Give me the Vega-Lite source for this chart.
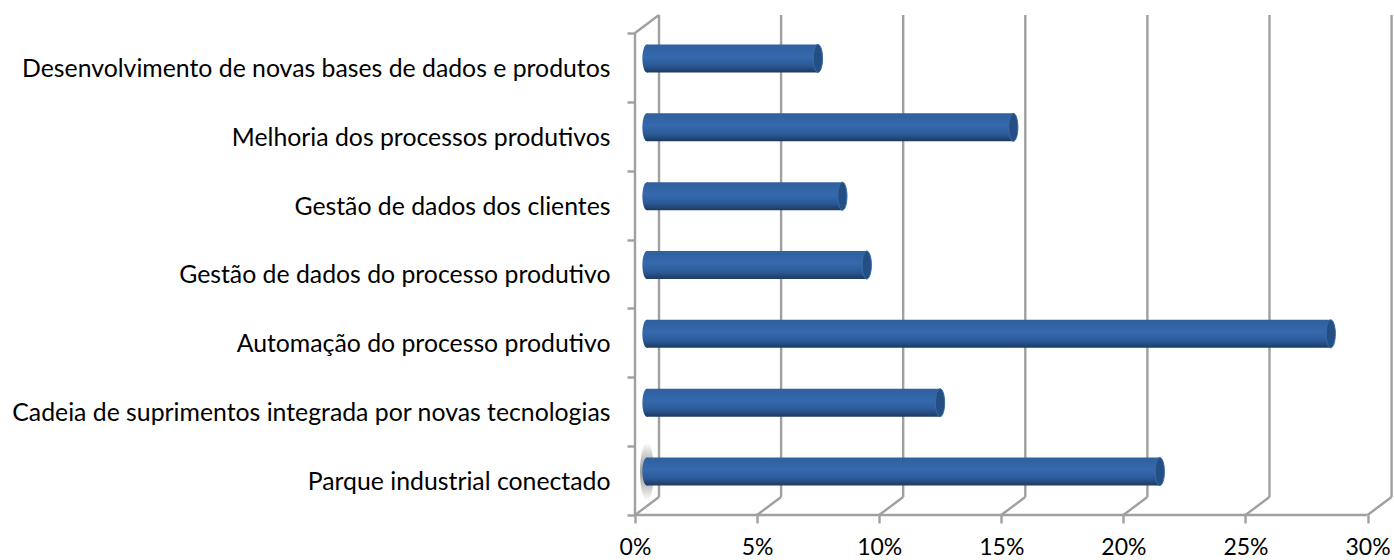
{
 "$schema":"https://vega.github.io/schema/vega-lite/v6.json",
 "width":757,"height":500,
 "autosize":{"type":"none"},
 "padding":{"left":635,"top":15,"right":2,"bottom":45},
 "background":"white",
 "config":{"view":{"stroke":null}},
 "datasets":{
  "barras":[
   {"categoria":"Desenvolvimento de novas bases de dados e produtos","valor":7},
   {"categoria":"Melhoria dos processos produtivos","valor":15},
   {"categoria":"Gestão de dados dos clientes","valor":8},
   {"categoria":"Gestão de dados do processo produtivo","valor":9},
   {"categoria":"Automação do processo produtivo","valor":28},
   {"categoria":"Cadeia de suprimentos integrada por novas tecnologias","valor":12},
   {"categoria":"Parque industrial conectado","valor":21}
  ],
  "grade":[{"pct":0},{"pct":5},{"pct":10},{"pct":15},{"pct":20},{"pct":25},{"pct":30}]
 },
 "resolve":{"scale":{"y":"independent"},"axis":{"y":"independent"}},
 "layer":[
  {"data":{"name":"grade"},
   "layer":[
    {"mark":{"type":"rule","color":"#a0a0a0","strokeWidth":2.4,"xOffset":24,"x2Offset":24,"yOffset":-18},
     "encoding":{
      "x":{"field":"pct","type":"quantitative","scale":{"domain":[0,31],"nice":false,"zero":false},
       "axis":{"values":[0,5,10,15,20,25,30],"format":".0f","labelExpr":"datum.value + '%'","grid":false,"domain":false,"tickColor":"#a0a0a0","tickWidth":2.4,"tickSize":8,"labelFont":"Lato","labelFontSize":23,"labelColor":"#000000","labelPadding":13,"labelFlush":false,"title":null}},
      "y":{"datum":0,"type":"quantitative","scale":{"domain":[0,7.261],"nice":false,"zero":false},"axis":null},
      "y2":{"datum":7.261}
     }},
    {"mark":{"type":"rule","color":"#a0a0a0","strokeWidth":2.4,"x2Offset":24,"y2Offset":-18},
     "encoding":{
      "x":{"field":"pct","type":"quantitative"},
      "x2":{"field":"pct"},
      "y":{"datum":0,"type":"quantitative"},
      "y2":{"datum":0}
     }},
    {"transform":[{"filter":"datum.pct === 0"}],
     "mark":{"type":"rule","color":"#a0a0a0","strokeWidth":2.4,"x2Offset":24,"y2Offset":-18},
     "encoding":{
      "x":{"field":"pct","type":"quantitative"},
      "x2":{"field":"pct"},
      "y":{"datum":7,"type":"quantitative"},
      "y2":{"datum":7}
     }},
    {"transform":[{"filter":"datum.pct === 0"}],
     "mark":{"type":"rule","color":"#a0a0a0","strokeWidth":2.4},
     "encoding":{
      "x":{"field":"pct","type":"quantitative"},
      "y":{"datum":0,"type":"quantitative"},
      "y2":{"datum":7}
     }},
    {"transform":[{"filter":"datum.pct === 0"}],
     "mark":{"type":"rule","color":"#a0a0a0","strokeWidth":2.4},
     "encoding":{
      "x":{"datum":0,"type":"quantitative"},
      "x2":{"datum":30},
      "y":{"datum":0,"type":"quantitative"}
     }}
   ]},
  {"data":{"name":"barras"},
   "encoding":{
    "y":{"field":"categoria","type":"nominal","sort":null,
     "scale":{"domain":["Desenvolvimento de novas bases de dados e produtos","Melhoria dos processos produtivos","Gestão de dados dos clientes","Gestão de dados do processo produtivo","Automação do processo produtivo","Cadeia de suprimentos integrada por novas tecnologias","Parque industrial conectado"],"paddingInner":0,"paddingOuter":0.1307,"align":1},
     "axis":{"orient":"left","title":null,"domain":false,"tickBand":"extent","tickColor":"#a0a0a0","tickWidth":2.4,"tickSize":8,"labelFont":"Lato","labelFontSize":24.8,"labelColor":"#000000","labelPadding":17,"labelLimit":640,"labelOffset":2}}
   },
   "layer":[
    {"transform":[{"filter":"datum.valor === 21"}],
     "mark":{"type":"point","filled":true,"opacity":1,"size":3400,"xOffset":12,"yOffset":-9,"shape":"M0,-1C0.14,-1 0.24,-0.5 0.24,0C0.24,0.5 0.14,1 0,1C-0.14,1 -0.24,0.5 -0.24,0C-0.24,-0.5 -0.14,-1 0,-1Z",
      "color":{"gradient":"radial","x1":0.5,"y1":0.5,"x2":0.5,"y2":0.5,"r1":0,"r2":0.5,"stops":[{"offset":0,"color":"#8c8c8c"},{"offset":1,"color":"#ffffff"}]}},
     "encoding":{"x":{"datum":0,"type":"quantitative"}}},
    {"mark":{"type":"point","filled":true,"opacity":1,"size":784,"xOffset":12,"yOffset":-9,"shape":"M0,-1C0.18,-1 0.33,-0.56 0.33,0C0.33,0.56 0.18,1 0,1C-0.18,1 -0.33,0.56 -0.33,0C-0.33,-0.56 -0.18,-1 0,-1Z",
      "color":{"x1":0,"y1":0,"x2":0,"y2":1,"gradient":"linear","stops":[{"offset":0,"color":"#2f609f"},{"offset":0.45,"color":"#3569ad"},{"offset":0.75,"color":"#2b5a97"},{"offset":1,"color":"#1d3a60"}]}},
     "encoding":{"x":{"datum":0,"type":"quantitative"}}},
    {"mark":{"type":"bar","size":28,"xOffset":12,"x2Offset":12,"yOffset":-9,
      "color":{"x1":0,"y1":0,"x2":0,"y2":1,"gradient":"linear","stops":[{"offset":0,"color":"#2f609f"},{"offset":0.45,"color":"#3569ad"},{"offset":0.75,"color":"#2b5a97"},{"offset":1,"color":"#1d3a60"}]}},
     "encoding":{"x":{"field":"valor","type":"quantitative","stack":null},"x2":{"datum":0}}},
    {"mark":{"type":"point","filled":true,"opacity":1,"size":784,"xOffset":12,"yOffset":-9,"stroke":"#3a6ba6","strokeWidth":1,"fill":"#244f85","shape":"M0,-1C0.18,-1 0.33,-0.56 0.33,0C0.33,0.56 0.18,1 0,1C-0.18,1 -0.33,0.56 -0.33,0C-0.33,-0.56 -0.18,-1 0,-1Z"},
     "encoding":{"x":{"field":"valor","type":"quantitative"}}}
   ]}
 ]
}
